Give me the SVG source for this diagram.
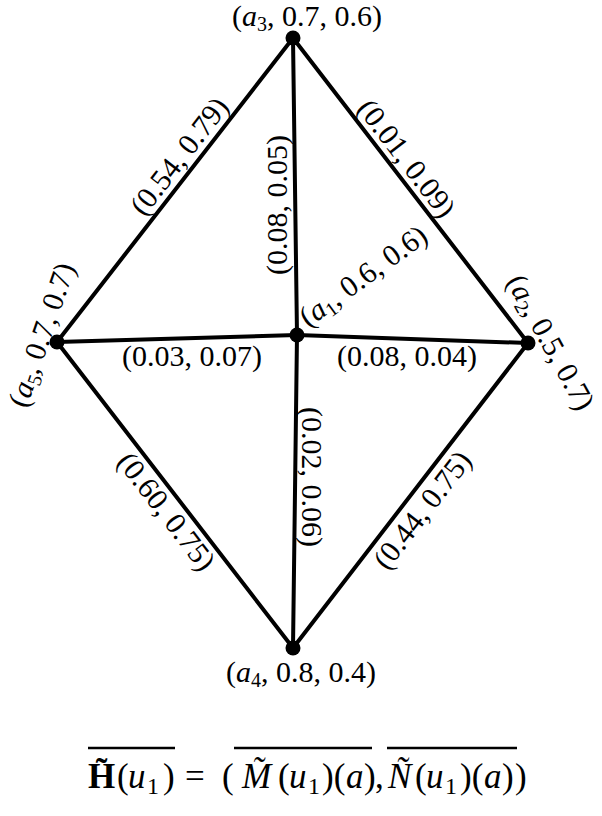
<svg xmlns="http://www.w3.org/2000/svg" width="602" height="816" viewBox="0 0 602 816">
<style>
.e{stroke:#000;stroke-width:4;fill:none;stroke-linecap:round}
.n{fill:#000}
text{font-family:"Liberation Serif","DejaVu Serif",serif;fill:#000}
.lbl{font-size:30px;text-anchor:middle}
.it{font-style:italic}
.sub{font-size:20px}
.f{font-size:35px}
.ol{stroke:#000;stroke-width:2.5}
</style>
<rect width="602" height="816" fill="#fff"/>
<g id="connectors">
<line class="e" x1="293" y1="38" x2="57" y2="342"/>
<line class="e" x1="293" y1="38" x2="528" y2="343"/>
<line class="e" x1="293" y1="38" x2="297" y2="335"/>
<line class="e" x1="57" y1="342" x2="297" y2="335"/>
<line class="e" x1="297" y1="335" x2="528" y2="343"/>
<line class="e" x1="57" y1="342" x2="293" y2="648"/>
<line class="e" x1="528" y1="343" x2="293" y2="648"/>
<line class="e" x1="297" y1="335" x2="293" y2="648"/>
</g>
<g id="edge-labels">
<text class="lbl" transform="translate(192,166) rotate(-52.2)" y="-6">(0.54, 0.79)</text>
<text class="lbl" transform="translate(394,168) rotate(52.4)" y="-6">(0.01, 0.09)</text>
<text class="lbl" transform="translate(295,205) rotate(-90)" y="-8">(0.08, 0.05)</text>
<text class="lbl" x="192" y="366">(0.03, 0.07)</text>
<text class="lbl" x="407" y="366">(0.08, 0.04)</text>
<text class="lbl" transform="translate(180,501) rotate(52.4)" y="27">(0.60, 0.75)</text>
<text class="lbl" transform="translate(295,477) rotate(90)" y="-7">(0.02, 0.06)</text>
<text class="lbl" transform="translate(408,499) rotate(-52.4)" y="28">(0.44, 0.75)</text>
</g>
<g id="node-a3">
<circle class="n" cx="293" cy="38" r="7.5"/>
<text class="lbl" x="307" y="26">(<tspan class="it">a</tspan><tspan class="sub" dy="5">3</tspan><tspan dy="-5">, 0.7, 0.6)</tspan></text>
</g>
<g id="node-a1">
<circle class="n" cx="297" cy="335" r="7.5"/>
<text class="lbl" transform="translate(369,284) rotate(-36)">(<tspan class="it">a</tspan><tspan class="sub" dy="5">1</tspan><tspan dy="-5">, 0.6, 0.6)</tspan></text>
</g>
<g id="node-a5">
<circle class="n" cx="57" cy="342" r="7.5"/>
<text class="lbl" transform="translate(51,338) rotate(-71)">(<tspan class="it">a</tspan><tspan class="sub" dy="5">5</tspan><tspan dy="-5">, 0.7, 0.7)</tspan></text>
</g>
<g id="node-a2">
<circle class="n" cx="528" cy="343" r="7.5"/>
<text class="lbl" transform="translate(542,347) rotate(61)">(<tspan class="it">a</tspan><tspan class="sub" dy="5">2</tspan><tspan dy="-5">, 0.5, 0.7)</tspan></text>
</g>
<g id="node-a4">
<circle class="n" cx="293" cy="648" r="7.5"/>
<text class="lbl" x="301" y="682">(<tspan class="it">a</tspan><tspan class="sub" dy="5">4</tspan><tspan dy="-5">, 0.8, 0.4)</tspan></text>
</g>
<g id="formula">
<text class="f" y="788"><tspan x="88" font-weight="bold">H&#x303;</tspan><tspan x="117">(</tspan><tspan x="128" class="it">u</tspan><tspan x="147" dy="6" font-size="24">1</tspan><tspan x="163" dy="-6">)</tspan><tspan x="185">=</tspan><tspan x="222">(</tspan><tspan x="242" class="it">M&#x303;</tspan><tspan x="278">(</tspan><tspan x="289" class="it">u</tspan><tspan x="308" dy="6" font-size="24">1</tspan><tspan x="322" dy="-6">)(</tspan><tspan x="346" class="it">a</tspan><tspan x="364">)</tspan><tspan x="375">,</tspan><tspan x="388" class="it">N&#x303;</tspan><tspan x="415">(</tspan><tspan x="426" class="it">u</tspan><tspan x="445" dy="6" font-size="24">1</tspan><tspan x="460" dy="-6">)(</tspan><tspan x="484" class="it">a</tspan><tspan x="502">)</tspan><tspan x="515">)</tspan></text>
<line class="ol" x1="88" y1="748" x2="175" y2="748"/>
<line class="ol" x1="234" y1="748" x2="372" y2="748"/>
<line class="ol" x1="387" y1="748" x2="517" y2="748"/>
</g>
</svg>
